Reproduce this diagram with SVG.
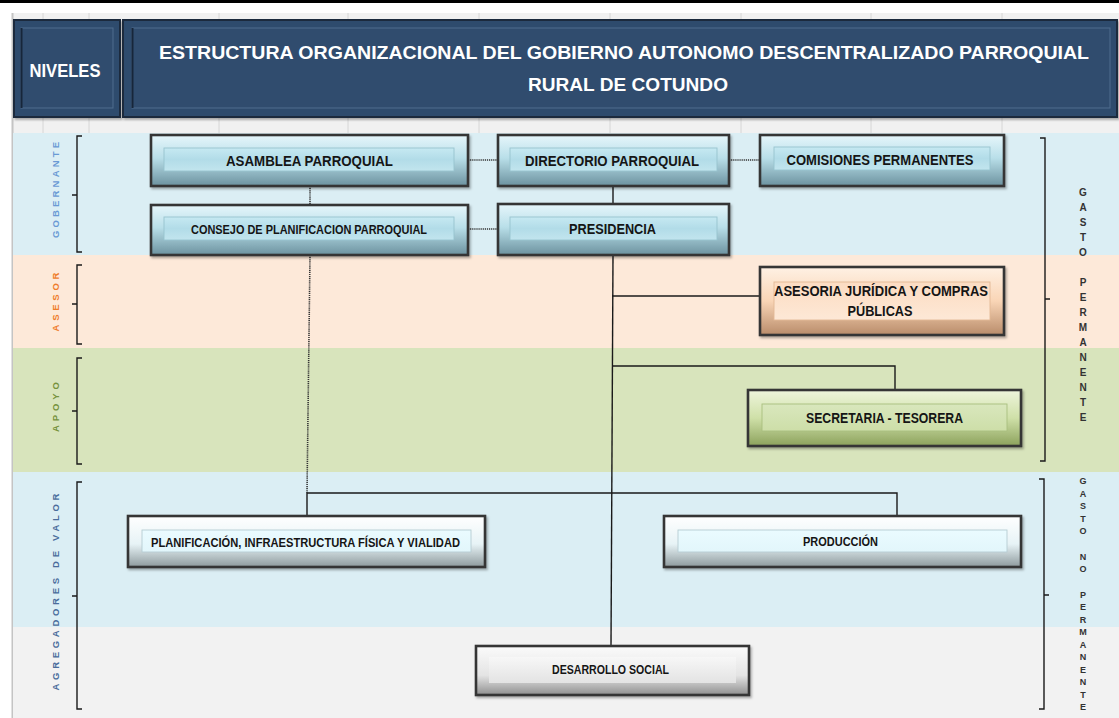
<svg xmlns="http://www.w3.org/2000/svg" width="1119" height="718" viewBox="0 0 1119 718">
<defs>
<style>
.band{stroke:none}
.grid{stroke:#d6d6d6;stroke-width:1}
.bk{fill:none;stroke:#1a1a1a;stroke-width:1.4}
.dot{fill:none;stroke:#333;stroke-width:1.6;stroke-dasharray:1.2 0.9}
.sol{fill:none;stroke:#1a1a1a;stroke-width:1.4}
.o{stroke:#353535;stroke-width:2.6}
.f{stroke-width:0.9}
.t{font-family:"Liberation Sans",Arial,sans-serif;font-weight:bold;fill:#151515;text-anchor:middle}
.hd{font-family:"Liberation Sans",Arial,sans-serif;font-weight:bold;fill:#ffffff;text-anchor:middle}
.lv{font-family:"Liberation Sans",Arial,sans-serif;font-weight:bold;text-anchor:middle;font-size:9.5px}
.gs{font-family:"Liberation Sans",Arial,sans-serif;font-weight:bold;fill:#333333;text-anchor:middle;font-size:10px}
</style>
<linearGradient id="gobO" x1="0" y1="0" x2="0" y2="1"><stop offset="0" stop-color="#e6f6fb"/><stop offset="0.45" stop-color="#b9dfe9"/><stop offset="1" stop-color="#6c929f"/></linearGradient>
<linearGradient id="gobF" x1="0" y1="0" x2="0" y2="1"><stop offset="0" stop-color="#c6e9f2"/><stop offset="0.5" stop-color="#b2dce8"/><stop offset="1" stop-color="#c2e5ee"/></linearGradient>
<linearGradient id="asO" x1="0" y1="0" x2="0" y2="1"><stop offset="0" stop-color="#fff1e4"/><stop offset="0.5" stop-color="#f9d5b6"/><stop offset="1" stop-color="#b98c6a"/></linearGradient>
<linearGradient id="asF" x1="0" y1="0" x2="0" y2="1"><stop offset="0" stop-color="#fcdcc2"/><stop offset="1" stop-color="#fde8d6"/></linearGradient>
<linearGradient id="seO" x1="0" y1="0" x2="0" y2="1"><stop offset="0" stop-color="#eef5dc"/><stop offset="0.5" stop-color="#cfe0a8"/><stop offset="1" stop-color="#8ca25c"/></linearGradient>
<linearGradient id="seF" x1="0" y1="0" x2="0" y2="1"><stop offset="0" stop-color="#d9e7bd"/><stop offset="1" stop-color="#cddea8"/></linearGradient>
<linearGradient id="vaO" x1="0" y1="0" x2="0" y2="1"><stop offset="0" stop-color="#ffffff"/><stop offset="0.55" stop-color="#e7f3f6"/><stop offset="1" stop-color="#8e9a9d"/></linearGradient>
<linearGradient id="vaF" x1="0" y1="0" x2="0" y2="1"><stop offset="0" stop-color="#eafbff"/><stop offset="1" stop-color="#e2f6fb"/></linearGradient>
<linearGradient id="soO" x1="0" y1="0" x2="0" y2="1"><stop offset="0" stop-color="#fbfbfb"/><stop offset="0.6" stop-color="#e4e4e4"/><stop offset="1" stop-color="#8f8f8f"/></linearGradient>
<linearGradient id="soF" x1="0" y1="0" x2="0" y2="1"><stop offset="0" stop-color="#f7f7f7"/><stop offset="1" stop-color="#e3e3e3"/></linearGradient>
<filter id="sh" x="-5%" y="-10%" width="115%" height="135%"><feDropShadow dx="1.5" dy="2" stdDeviation="1.2" flood-color="#000" flood-opacity="0.3"/></filter>
</defs>

<!-- page background -->
<rect x="0" y="0" width="1119" height="718" fill="#ffffff"/>
<rect x="0" y="0" width="1119" height="3" fill="#000000"/>
<rect x="13" y="13" width="1106" height="705" fill="#f1f1f1"/>
<line x1="12.5" y1="13" x2="12.5" y2="718" stroke="#c4c4c4" stroke-width="2"/>
<g id="gridlines">
<line class="grid" x1="43" y1="13" x2="43" y2="133"/>
<line class="grid" x1="89" y1="13" x2="89" y2="133"/>
<line class="grid" x1="219" y1="13" x2="219" y2="133"/>
<line class="grid" x1="348" y1="13" x2="348" y2="133"/>
<line class="grid" x1="479" y1="13" x2="479" y2="133"/>
<line class="grid" x1="610" y1="13" x2="610" y2="133"/>
<line class="grid" x1="741" y1="13" x2="741" y2="133"/>
<line class="grid" x1="871" y1="13" x2="871" y2="133"/>
<line class="grid" x1="1002" y1="13" x2="1002" y2="133"/>
</g>

<!-- bands -->
<g id="bands">
<rect class="band" x="13" y="133" width="1106" height="122" fill="#dbeef4"/>
<rect class="band" x="13" y="255" width="1106" height="93" fill="#fde9d9"/>
<rect class="band" x="13" y="348" width="1106" height="124" fill="#d8e4bc"/>
<rect class="band" x="13" y="472" width="1106" height="155" fill="#dbeef4"/>
<rect class="band" x="13" y="627" width="1106" height="91" fill="#f2f2f2"/>
</g>

<!-- header -->
<g id="niveles">
<rect x="14" y="20" width="106" height="97" fill="#2f4b6d" stroke="#1a293c" stroke-width="2" filter="url(#sh)"/>
<rect x="21" y="28" width="92" height="80" fill="#304c6e" stroke="#4f6c8e" stroke-width="1"/>
<line x1="21.5" y1="28" x2="21.5" y2="108" stroke="#17263a" stroke-width="2"/>
<text class="hd" x="65" y="77" font-size="18" textLength="71" lengthAdjust="spacingAndGlyphs">NIVELES</text>
</g>
<g id="titulo">
<rect x="123" y="20" width="994" height="97" fill="#2f4b6d" stroke="#1a293c" stroke-width="2" filter="url(#sh)"/>
<rect x="132" y="28" width="978" height="80" fill="#304c6e" stroke="#4f6c8e" stroke-width="1"/>
<line x1="132.5" y1="28" x2="132.5" y2="108" stroke="#17263a" stroke-width="2"/>
<text class="hd" x="624" y="59" font-size="19" textLength="930" lengthAdjust="spacingAndGlyphs">ESTRUCTURA ORGANIZACIONAL DEL GOBIERNO AUTONOMO DESCENTRALIZADO PARROQUIAL</text>
<text class="hd" x="628" y="91" font-size="19" textLength="200" lengthAdjust="spacingAndGlyphs">RURAL DE COTUNDO</text>
</g>

<!-- level labels -->
<g id="labels">
<text class="lv" x="58.5" y="190" fill="#6a9ad4" transform="rotate(-90 58.5 190)" textLength="96" lengthAdjust="spacing">GOBERNANTE</text>
<text class="lv" x="58.5" y="302" fill="#ef7d2c" transform="rotate(-90 58.5 302)" textLength="59" lengthAdjust="spacing">ASESOR</text>
<text class="lv" x="58.5" y="407" fill="#76923c" transform="rotate(-90 58.5 407)" textLength="50" lengthAdjust="spacing">APOYO</text>
<text class="lv" x="58.5" y="592" fill="#4a6d9c" transform="rotate(-90 58.5 592)" textLength="197" lengthAdjust="spacing">AGREGADORES DE VALOR</text>
</g>

<!-- brackets -->
<g id="brackets">
<path class="bk" d="M82,136 H77 V252 H82 M77,195 H72"/>
<path class="bk" d="M82,265 H77 V344 H82 M77,304 H72"/>
<path class="bk" d="M82,358 H77 V464 H82 M77,411 H72"/>
<path class="bk" d="M82,482 H77 V709 H82 M77,596 H72"/>
<path class="bk" d="M1040,138 H1045 V461 H1040 M1045,299 H1050"/>
<path class="bk" d="M1039,479 H1044 V709 H1039 M1044,595 H1049"/>
</g>

<g id="gasto-permanente">
<text class="gs"><tspan x="1083" y="195.5">G</tspan><tspan x="1083" y="210.5">A</tspan><tspan x="1083" y="225.5">S</tspan><tspan x="1083" y="240.5">T</tspan><tspan x="1083" y="255.5">O</tspan><tspan x="1083" y="285.5">P</tspan><tspan x="1083" y="300.5">E</tspan><tspan x="1083" y="315.5">R</tspan><tspan x="1083" y="330.5">M</tspan><tspan x="1083" y="345.5">A</tspan><tspan x="1083" y="360.5">N</tspan><tspan x="1083" y="375.5">E</tspan><tspan x="1083" y="390.5">N</tspan><tspan x="1083" y="405.5">T</tspan><tspan x="1083" y="420.5">E</tspan></text>
</g>
<g id="gasto-no-permanente">
<text class="gs" style="font-size:9px"><tspan x="1083" y="484">G</tspan><tspan x="1083" y="496.5">A</tspan><tspan x="1083" y="509">S</tspan><tspan x="1083" y="521.5">T</tspan><tspan x="1083" y="534">O</tspan><tspan x="1083" y="559.5">N</tspan><tspan x="1083" y="572">O</tspan><tspan x="1083" y="597.5">P</tspan><tspan x="1083" y="610">E</tspan><tspan x="1083" y="622.5">R</tspan><tspan x="1083" y="635">M</tspan><tspan x="1083" y="647.5">A</tspan><tspan x="1083" y="660">N</tspan><tspan x="1083" y="672.5">E</tspan><tspan x="1083" y="685">N</tspan><tspan x="1083" y="697.5">T</tspan><tspan x="1083" y="710">E</tspan></text>
</g>

<!-- connectors -->
<g id="connectors">
<line class="dot" x1="310" y1="186" x2="310" y2="205"/>
<line class="dot" x1="310" y1="255" x2="307" y2="493"/>
<line class="dot" x1="468" y1="160" x2="498" y2="160"/>
<line class="dot" x1="468" y1="229" x2="498" y2="229"/>
<line class="dot" x1="729" y1="160" x2="760" y2="160"/>
<line class="sol" x1="613" y1="186" x2="613" y2="204"/>
<line class="sol" x1="613" y1="255" x2="611" y2="646"/>
<line class="sol" x1="612" y1="296" x2="760" y2="296"/>
<path class="sol" d="M612,366 H895 V390"/>
<path class="sol" d="M307,516 V493 H897 V516"/>
</g>

<!-- nodes -->
<g id="asamblea">
<rect class="o" x="151" y="135" width="317" height="51" fill="url(#gobO)" filter="url(#sh)"/>
<rect class="f" x="164" y="148" width="290" height="23" fill="url(#gobF)" stroke="#98c3cf"/>
<text class="t" x="309.5" y="166" font-size="14" textLength="167" lengthAdjust="spacingAndGlyphs">ASAMBLEA PARROQUIAL</text>
</g>
<g id="consejo">
<rect class="o" x="151" y="205" width="317" height="50" fill="url(#gobO)" filter="url(#sh)"/>
<rect class="f" x="164" y="217" width="290" height="23" fill="url(#gobF)" stroke="#98c3cf"/>
<text class="t" x="309" y="234" font-size="12" textLength="236" lengthAdjust="spacingAndGlyphs">CONSEJO  DE PLANIFICACION   PARROQUIAL</text>
</g>
<g id="directorio">
<rect class="o" x="498" y="135" width="231" height="51" fill="url(#gobO)" filter="url(#sh)"/>
<rect class="f" x="510" y="148" width="207" height="23" fill="url(#gobF)" stroke="#98c3cf"/>
<text class="t" x="612" y="166" font-size="14" textLength="174" lengthAdjust="spacingAndGlyphs">DIRECTORIO PARROQUIAL</text>
</g>
<g id="presidencia">
<rect class="o" x="498" y="204" width="231" height="51" fill="url(#gobO)" filter="url(#sh)"/>
<rect class="f" x="510" y="217" width="207" height="23" fill="url(#gobF)" stroke="#98c3cf"/>
<text class="t" x="612.5" y="234" font-size="14" textLength="87" lengthAdjust="spacingAndGlyphs">PRESIDENCIA</text>
</g>
<g id="comisiones">
<rect class="o" x="760" y="135" width="244" height="51" fill="url(#gobO)" filter="url(#sh)"/>
<rect class="f" x="774" y="147" width="216" height="23" fill="url(#gobF)" stroke="#98c3cf"/>
<text class="t" x="880" y="165" font-size="14" textLength="187" lengthAdjust="spacingAndGlyphs">COMISIONES PERMANENTES</text>
</g>
<g id="asesoria">
<rect class="o" x="760" y="267" width="244" height="68" fill="url(#asO)" filter="url(#sh)"/>
<rect class="f" x="774" y="282" width="216" height="38" fill="url(#asF)" stroke="#e2b896"/>
<text class="t" x="881" y="296" font-size="14" textLength="214" lengthAdjust="spacingAndGlyphs">ASESORIA JURÍDICA Y COMPRAS</text>
<text class="t" x="880" y="316" font-size="14" textLength="65" lengthAdjust="spacingAndGlyphs">PÚBLICAS</text>
</g>
<g id="secretaria">
<rect class="o" x="748" y="390" width="273" height="56" fill="url(#seO)" filter="url(#sh)"/>
<rect class="f" x="762" y="404" width="245" height="27" fill="url(#seF)" stroke="#a9bf7e"/>
<text class="t" x="884.5" y="423" font-size="14" textLength="157" lengthAdjust="spacingAndGlyphs">SECRETARIA - TESORERA</text>
</g>
<g id="planificacion">
<rect class="o" x="128" y="516" width="357" height="51" fill="url(#vaO)" filter="url(#sh)"/>
<rect class="f" x="142" y="530" width="329" height="22" fill="url(#vaF)" stroke="#b7cdd3"/>
<text class="t" x="305.5" y="547" font-size="12" textLength="309" lengthAdjust="spacingAndGlyphs">PLANIFICACIÓN,  INFRAESTRUCTURA  FÍSICA Y VIALIDAD</text>
</g>
<g id="produccion">
<rect class="o" x="664" y="516" width="357" height="51" fill="url(#vaO)" filter="url(#sh)"/>
<rect class="f" x="678" y="530" width="329" height="22" fill="url(#vaF)" stroke="#b7cdd3"/>
<text class="t" x="840.5" y="546" font-size="12" textLength="75" lengthAdjust="spacingAndGlyphs">PRODUCCIÓN</text>
</g>
<g id="desarrollo">
<rect class="o" x="476" y="646" width="273" height="49" fill="url(#soO)" filter="url(#sh)"/>
<rect x="489" y="657" width="247" height="26" fill="url(#soF)" stroke="none"/>
<text class="t" x="610.5" y="674" font-size="12" textLength="117" lengthAdjust="spacingAndGlyphs">DESARROLLO  SOCIAL</text>
</g>
</svg>
